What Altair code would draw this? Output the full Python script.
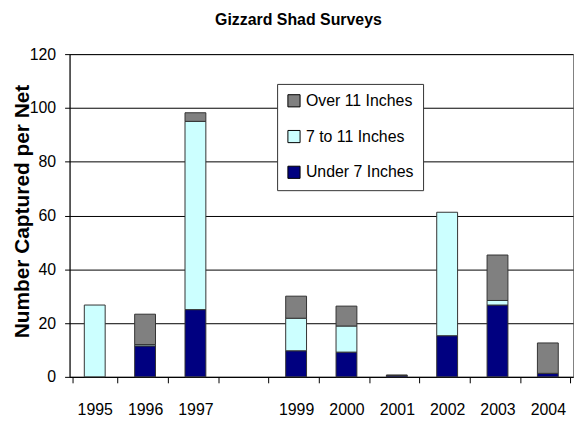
import altair as alt
import pandas as pd

years = ["1995", "1996", "1997", "1998", "1999", "2000", "2001", "2002", "2003", "2004"]
under7 = [0, 11.5, 25.0, 0, 9.7, 9.2, 0.5, 15.3, 26.7, 1.3]
mid7_11 = [26.7, 0.5, 70.0, 0, 12.1, 9.7, 0, 45.9, 1.7, 0]
over11 = [0, 11.3, 3.2, 0, 8.2, 7.4, 0.2, 0, 16.9, 11.3]

series = ["Over 11 Inches", "7 to 11 Inches", "Under 7 Inches"]
colors = ["#808080", "#CCFFFF", "#000080"]
stack_rank = {"Under 7 Inches": 0, "7 to 11 Inches": 1, "Over 11 Inches": 2}

rows = []
for i, y in enumerate(years):
    for name, vals in (("Under 7 Inches", under7), ("7 to 11 Inches", mid7_11), ("Over 11 Inches", over11)):
        if vals[i] > 0:
            rows.append({"year": y, "size": name, "value": vals[i], "rank": stack_rank[name]})
df = pd.DataFrame(rows)

chart = alt.Chart(df).mark_bar(size=21, stroke="#333333", strokeWidth=1).encode(
    x=alt.X("year:N", title=None, scale=alt.Scale(domain=years),
            axis=alt.Axis(labelAngle=0, tickBand="extent", labelExpr="datum.value == '1998' ? '' : datum.value",
                          labelFont="Liberation Sans", labelFontSize=16, labelColor="black",
                          labelPadding=19, tickSize=6, tickColor="black", domainColor="black", grid=False)),
    y=alt.Y("value:Q", stack="zero", title="Number Captured per Net",
            scale=alt.Scale(domain=[0, 120]),
            axis=alt.Axis(values=[0, 20, 40, 60, 80, 100, 120], labelFont="Liberation Sans", labelFontSize=16,
                          labelColor="black", tickSize=5, tickColor="black", labelPadding=9,
                          domainColor="black", gridColor="black", gridWidth=1,
                          titleFont="Liberation Sans", titleFontSize=21, titleFontWeight="bold",
                          titleColor="black", titleX=-47, titleY=158, titleAngle=-90,
                          titleAlign="center", titleBaseline="middle")),
    color=alt.Color("size:N", scale=alt.Scale(domain=series, range=colors),
                    legend=alt.Legend(title=None, orient="none", legendX=209, legendY=30,
                                      strokeColor="#333333", padding=9, rowPadding=18,
                                      symbolType="square", symbolSize=150, symbolStrokeColor="black",
                                      symbolStrokeWidth=1, labelFont="Liberation Sans", labelFontSize=16,
                                      labelColor="black", labelOffset=4, fillColor="white")),
    order=alt.Order("rank:Q", sort="ascending"),
).properties(
    width=507, height=325,
    title=alt.TitleParams("Gizzard Shad Surveys", font="Liberation Sans", fontSize=16, fontWeight="bold",
                          color="black", dx=-23, offset=18),
    autosize=alt.AutoSizeParams(type="none"),
    padding={"left": 62, "top": 45, "right": 2, "bottom": 42},
).configure_view(stroke="#808080", strokeWidth=1)

chart.save("out.html", embed_options={"renderer": "svg", "actions": False})
